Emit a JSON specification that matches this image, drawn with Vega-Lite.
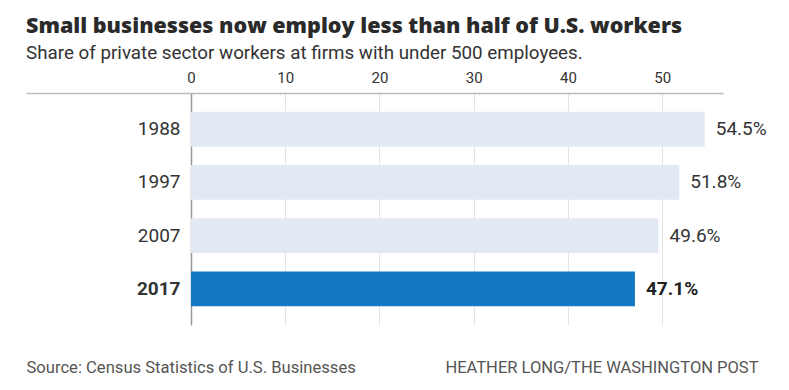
{
  "$schema": "https://vega.github.io/schema/vega-lite/v6.json",
  "autosize": {"type": "none"},
  "width": 697,
  "height": 232,
  "padding": {"left": 26, "top": 93, "right": 66, "bottom": 65},
  "background": "white",
  "title": {
    "text": "Small businesses now employ less than half of U.S. workers",
    "subtitle": "Share of private sector workers at firms with under 500 employees.",
    "anchor": "start",
    "frame": "group",
    "font": "Open Sans",
    "fontSize": 21.5,
    "fontWeight": 800,
    "color": "#2a2a2a",
    "subtitleFont": "Roboto",
    "subtitleFontSize": 18.8,
    "subtitleColor": "#333",
    "subtitlePadding": 7,
    "offset": 7
  },
  "data": {
    "values": [
      {"year": "1988", "value": 54.5, "label": "54.5%"},
      {"year": "1997", "value": 51.8, "label": "51.8%"},
      {"year": "2007", "value": 49.6, "label": "49.6%"},
      {"year": "2017", "value": 47.1, "label": "47.1%"}
    ]
  },
  "resolve": {"axis": {"x": "independent", "y": "independent"}},
  "layer": [
    {
      "mark": {"type": "bar"},
      "encoding": {
        "y": {
          "field": "year", "type": "nominal", "sort": null,
          "scale": {"paddingInner": 0.344, "paddingOuter": 0.35},
          "axis": {
            "title": null, "orient": "left", "offset": -165, "domain": false, "ticks": false,
            "labelPadding": 11, "labelFont": "Roboto", "labelFontSize": 19, "labelColor": "#333",
            "labelFontWeight": {"condition": {"test": "datum.value === '2017'", "value": "bold"}, "value": "normal"}
          }
        },
        "x": {
          "field": "value", "type": "quantitative",
          "scale": {"domain": [-17.5, 56.44], "nice": false, "zero": false},
          "axis": {
            "title": null, "orient": "top", "values": [0, 10, 20, 30, 40, 50],
            "ticks": false, "domain": true, "domainColor": "#bbb", "domainWidth": 1.5,
            "grid": true, "gridColor": {"condition": {"test": "datum.value === 0", "value": "#999"}, "value": "#e3e3e3"},
            "gridWidth": {"condition": {"test": "datum.value === 0", "value": 1.5}, "value": 1},
            "labelFont": "Roboto", "labelFontSize": 15, "labelColor": "#333", "labelPadding": 8
          }
        },
        "x2": {"datum": 0},
        "color": {
          "condition": {"test": "datum.year === '2017'", "value": "#1379c2"},
          "value": "#e2e9f5"
        }
      }
    },
    {
      "transform": [{"filter": "datum.year !== '2017'"}],
      "mark": {"type": "text", "align": "left", "dx": 11, "font": "Roboto", "fontSize": 19, "baseline": "middle", "color": "#333"},
      "encoding": {
        "y": {
          "field": "year", "type": "nominal", "sort": null,
          "axis": {
            "title": "HEATHER LONG/THE WASHINGTON POST", "orient": "right", "labels": false, "ticks": false, "domain": false,
            "titleAngle": 0, "titleAlign": "right", "titleBaseline": "middle", "titleX": 35, "titleY": 274,
            "titleFont": "Roboto", "titleFontSize": 16.5, "titleFontWeight": "normal", "titleColor": "#555"
          }
        },
        "x": {
          "field": "value", "type": "quantitative",
          "axis": {
            "title": "Source: Census Statistics of U.S. Businesses", "orient": "bottom", "labels": false, "ticks": false,
            "domain": false, "grid": false, "titleAnchor": "start", "titleAlign": "left", "titleX": 0, "titleY": 42,
            "titleBaseline": "middle", "titleFont": "Roboto", "titleFontSize": 16.6, "titleFontWeight": "normal", "titleColor": "#555"
          }
        },
        "text": {"field": "label"}
      }
    },
    {
      "transform": [{"filter": "datum.year === '2017'"}],
      "mark": {"type": "text", "align": "left", "dx": 11, "font": "Roboto", "fontSize": 19, "fontWeight": "bold", "baseline": "middle", "color": "#222"},
      "encoding": {
        "y": {"field": "year", "type": "nominal", "sort": null, "axis": null},
        "x": {"field": "value", "type": "quantitative", "axis": null},
        "text": {"field": "label"}
      }
    }
  ],
  "config": {"view": {"stroke": null}}
}
